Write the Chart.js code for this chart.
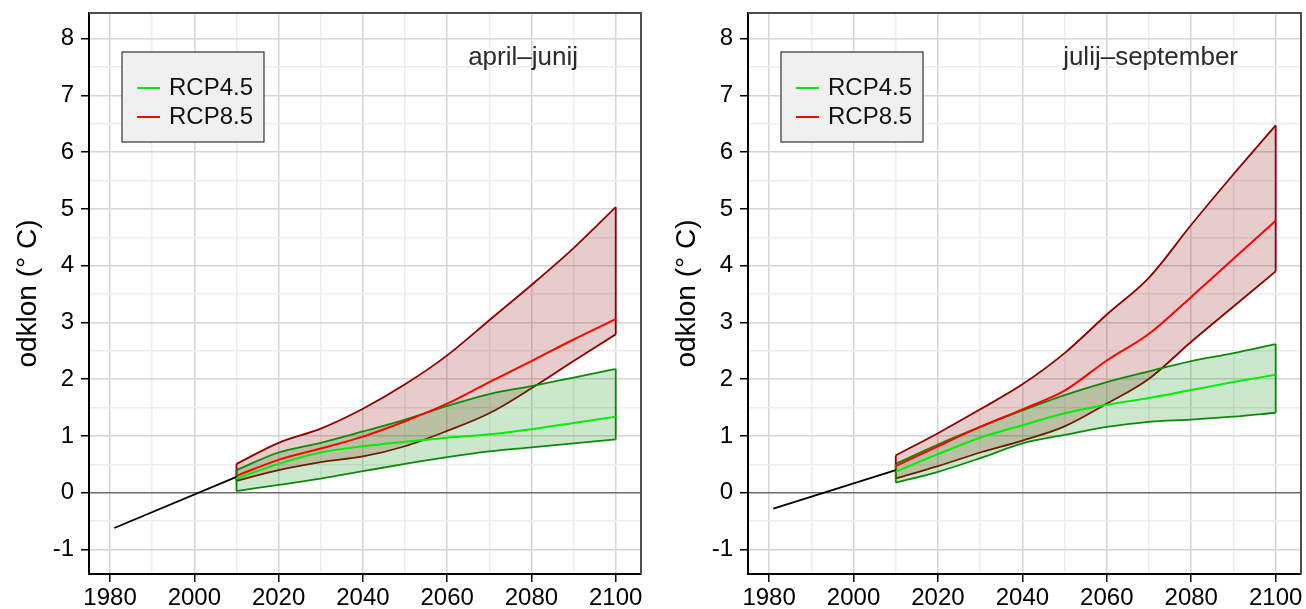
<!DOCTYPE html>
<html>
<head>
<meta charset="utf-8">
<script src="https://cdn.jsdelivr.net/npm/chart.js@4/dist/chart.umd.min.js"></script>
<style>
  html, body { margin: 0; padding: 0; background: #fff; }
  body { width: 1306px; height: 609px; position: relative; overflow: hidden; }
  canvas { position: absolute; top: 0; }
  #chartLeft { left: 0; }
  #chartRight { left: 659px; }
</style>
</head>
<body>
<canvas id="chartLeft" width="653" height="609"></canvas>
<canvas id="chartRight" width="647" height="609"></canvas>
<script>
// scenario years (projections) and the observed trend segment
const years = [2010, 2020, 2030, 2040, 2050, 2060, 2070, 2080, 2090, 2100];
const obsYears = [1981, 2010];

// april-junij
const ajObs = [-0.62, 0.28];
const aj45Lo = [0.03, 0.14, 0.25, 0.38, 0.51, 0.63, 0.73, 0.80, 0.87, 0.94];
const aj45Mid = [0.25, 0.51, 0.71, 0.82, 0.90, 0.97, 1.03, 1.12, 1.23, 1.34];
const aj45Hi = [0.40, 0.71, 0.88, 1.08, 1.29, 1.53, 1.74, 1.88, 2.03, 2.18];
const aj85Lo = [0.21, 0.40, 0.54, 0.64, 0.82, 1.09, 1.40, 1.84, 2.32, 2.79];
const aj85Mid = [0.30, 0.58, 0.78, 0.99, 1.26, 1.57, 1.95, 2.32, 2.70, 3.06];
const aj85Hi = [0.51, 0.88, 1.13, 1.48, 1.91, 2.42, 3.04, 3.66, 4.31, 5.03];

// julij-september
const jsObs = [-0.28, 0.40];
const js45Lo = [0.18, 0.37, 0.61, 0.87, 1.02, 1.16, 1.25, 1.29, 1.34, 1.41];
const js45Mid = [0.37, 0.68, 0.97, 1.19, 1.40, 1.55, 1.67, 1.81, 1.95, 2.08];
const js45Hi = [0.51, 0.85, 1.16, 1.45, 1.72, 1.95, 2.14, 2.32, 2.46, 2.62];
const js85Lo = [0.25, 0.47, 0.71, 0.92, 1.17, 1.57, 2.01, 2.66, 3.28, 3.90];
const js85Mid = [0.47, 0.82, 1.16, 1.47, 1.80, 2.33, 2.80, 3.45, 4.12, 4.79];
const js85Hi = [0.66, 1.05, 1.47, 1.91, 2.46, 3.14, 3.79, 4.72, 5.61, 6.47];

// axis ticks (minor ones get a grid line but no label)
const xTicks = [1980, 1990, 2000, 2010, 2020, 2030, 2040, 2050, 2060, 2070, 2080, 2090, 2100];
const yTicks = [-1, -0.5, 0, 0.5, 1, 1.5, 2, 2.5, 3, 3.5, 4, 4.5, 5, 5.5, 6, 6.5, 7, 7.5, 8];
const legendLabels = ["RCP4.5", "RCP8.5"];

const FONT = "'Liberation Sans', Arial, Helvetica, sans-serif";
Chart.defaults.font.family = FONT;

const pts = (xs, ys) => xs.map((x, i) => ({ x: x, y: ys[i] }));
// vertical closing edge of a band at index i
const edge = (lo, hi, i) => [{ x: years[i], y: lo[i] }, { x: years[i], y: hi[i] }];

const frameAndLegend = {
  id: "frameAndLegend",
  afterDraw(chart, args, opts) {
    const ctx = chart.ctx;
    const a = chart.chartArea;
    ctx.save();
    // top/right frame
    ctx.strokeStyle = "#4d4d4d";
    ctx.lineWidth = 2;
    ctx.beginPath();
    ctx.moveTo(a.left, a.top);
    ctx.lineTo(a.right, a.top);
    ctx.lineTo(a.right, a.bottom);
    ctx.stroke();

    // panel title
    ctx.fillStyle = "#2b2b2b";
    ctx.font = "26px " + FONT;
    ctx.textAlign = "right";
    ctx.textBaseline = "middle";
    ctx.fillText(opts.title, a.right - 63, a.top + 45);

    // legend box
    const bx = a.left + 33, by = a.top + 39, bw = 142, bh = 90;
    ctx.fillStyle = "#f0f0f0";
    ctx.fillRect(bx, by, bw, bh);
    ctx.strokeStyle = "#333";
    ctx.lineWidth = 1.2;
    ctx.strokeRect(bx, by, bw, bh);
    const cols = ["#00ee00", "#ff0000"];
    ctx.font = "24px " + FONT;
    ctx.textAlign = "left";
    legendLabels.forEach((lab, i) => {
      const ly = by + 36 + i * 29;
      ctx.strokeStyle = cols[i];
      ctx.lineWidth = 2;
      ctx.beginPath();
      ctx.moveTo(bx + 15, ly);
      ctx.lineTo(bx + 38, ly);
      ctx.stroke();
      ctx.fillStyle = "#111";
      ctx.fillText(lab, bx + 47, ly);
    });
    ctx.restore();
  }
};

function makeChart(id, title, obs, lo45, mid45, hi45, lo85, mid85, hi85, padRight) {
  const smooth = { pointRadius: 0, cubicInterpolationMode: "monotone" };
  const flat = { pointRadius: 0, tension: 0 };
  const last = years.length - 1;
  const RED = "#8b0000", GREEN = "#0a8a0a";
  const datasets = [
    // RCP8.5 band (0: upper with fill to 1, 1: lower)
    Object.assign({ data: pts(years, hi85), borderColor: RED, borderWidth: 1.8,
      backgroundColor: "rgba(139,0,0,0.2)", fill: 1, order: 10 }, smooth),
    Object.assign({ data: pts(years, lo85), borderColor: RED, borderWidth: 1.8,
      fill: false, order: 9 }, smooth),
    // RCP4.5 band (2: upper with fill to 3, 3: lower)
    Object.assign({ data: pts(years, hi45), borderColor: GREEN, borderWidth: 1.8,
      backgroundColor: "rgba(0,139,0,0.2)", fill: 3, order: 8 }, smooth),
    Object.assign({ data: pts(years, lo45), borderColor: GREEN, borderWidth: 1.8,
      fill: false, order: 7 }, smooth),
    // closing edges of the bands
    Object.assign({ data: edge(lo85, hi85, 0), borderColor: RED, borderWidth: 1.8, fill: false, order: 6 }, flat),
    Object.assign({ data: edge(lo85, hi85, last), borderColor: RED, borderWidth: 1.8, fill: false, order: 6 }, flat),
    Object.assign({ data: edge(lo45, hi45, 0), borderColor: GREEN, borderWidth: 1.8, fill: false, order: 5 }, flat),
    Object.assign({ data: edge(lo45, hi45, last), borderColor: GREEN, borderWidth: 1.8, fill: false, order: 5 }, flat),
    // observed trend
    Object.assign({ data: pts(obsYears, obs), borderColor: "#000", borderWidth: 1.8,
      fill: false, order: 4 }, flat),
    // ensemble means
    Object.assign({ data: pts(years, mid45), borderColor: "#00ee00", borderWidth: 2,
      fill: false, order: 3 }, smooth),
    Object.assign({ data: pts(years, mid85), borderColor: "#ff0000", borderWidth: 2,
      fill: false, order: 2 }, smooth)
  ];

  return new Chart(document.getElementById(id), {
    type: "line",
    data: { datasets: datasets },
    options: {
      responsive: false,
      animation: false,
      devicePixelRatio: 1,
      layout: { padding: { top: 13, right: padRight, left: 0, bottom: 0 } },
      plugins: {
        legend: { display: false },
        tooltip: { enabled: false },
        frameAndLegend: { title: title }
      },
      scales: {
        x: {
          type: "linear",
          min: 1975,
          max: 2106,
          afterBuildTicks: s => { s.ticks = xTicks.map(v => ({ value: v })); },
          afterFit: s => { s.height = 35; s.paddingLeft = 0; s.paddingRight = 0; },
          ticks: {
            autoSkip: false,
            maxRotation: 0,
            color: "#000",
            padding: 2,
            font: { size: 24 },
            callback: v => (v % 20 === 0 ? String(v) : "")
          },
          grid: {
            color: c => (c.tick && c.tick.value % 20 === 0 ? "#d6d6d6" : "#ededed"),
            lineWidth: 1.5,
            tickLength: 8,
            tickWidth: 1.5,
            tickColor: c => (c.tick && c.tick.value % 20 === 0 ? "#000" : "rgba(0,0,0,0)")
          },
          border: { color: "#000", width: 2 }
        },
        y: {
          min: -1.43,
          max: 8.45,
          afterBuildTicks: s => { s.ticks = yTicks.map(v => ({ value: v })); },
          afterFit: s => { s.width = 89; s.paddingTop = 0; s.paddingBottom = 0; },
          title: {
            display: true,
            text: "odklon (° C)",
            color: "#000",
            font: { size: 28 },
            padding: { top: 11, bottom: 0 }
          },
          ticks: {
            autoSkip: false,
            color: "#000",
            padding: 7,
            font: { size: 24 },
            callback: v => (Number.isInteger(v) ? String(v) : "")
          },
          grid: {
            color: c => {
              if (!c.tick) return "#ededed";
              if (c.tick.value === 0) return "#6b6b6b";
              return Number.isInteger(c.tick.value) ? "#d6d6d6" : "#ededed";
            },
            lineWidth: 1.5,
            tickLength: 8,
            tickWidth: 1.5,
            tickColor: c => (c.tick && Number.isInteger(c.tick.value) ? "#000" : "rgba(0,0,0,0)")
          },
          border: { color: "#000", width: 2 }
        }
      }
    },
    plugins: [frameAndLegend]
  });
}

makeChart("chartLeft", "april–junij", ajObs, aj45Lo, aj45Mid, aj45Hi, aj85Lo, aj85Mid, aj85Hi, 12);
makeChart("chartRight", "julij–september", jsObs, js45Lo, js45Mid, js45Hi, js85Lo, js85Mid, js85Hi, 5);
</script>
</body>
</html>
